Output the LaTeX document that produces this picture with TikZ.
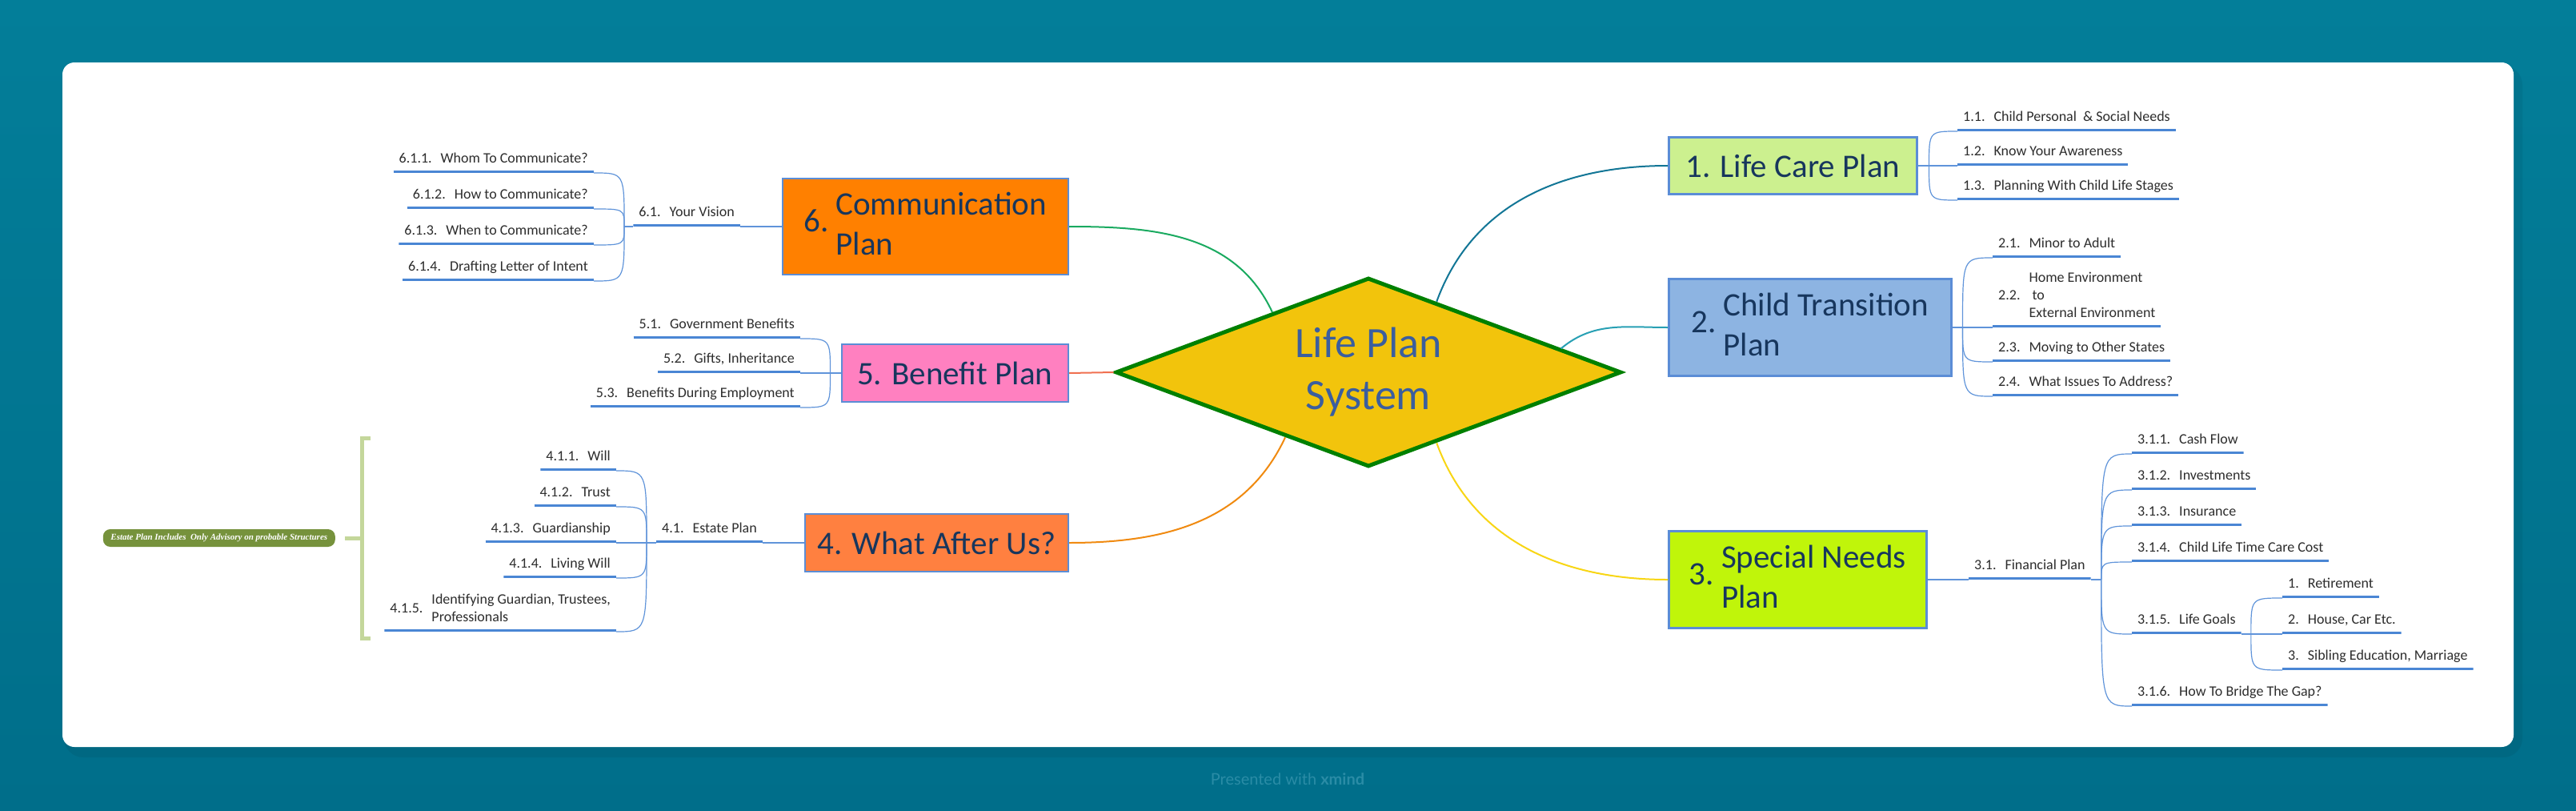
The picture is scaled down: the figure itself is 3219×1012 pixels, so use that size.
\documentclass[tikz,border=0pt]{standalone}
\usepackage{fontspec}
\setmainfont{Carlito}
\newfontfamily\brandfont{Lato}
\newfontfamily\notefont{Liberation Serif}
\usetikzlibrary{shapes.geometric,positioning,calc}

\definecolor{bgtop}{RGB}{3,126,153}
\definecolor{bgbot}{RGB}{0,110,138}
\definecolor{brand}{RGB}{42,140,166}
\definecolor{navy}{RGB}{23,54,93}
\definecolor{hubtext}{RGB}{59,94,158}
\definecolor{hubfill}{RGB}{242,196,12}
\definecolor{hubline}{RGB}{0,128,0}
\definecolor{boxline}{RGB}{91,141,214}
\definecolor{uline}{RGB}{74,134,212}
\definecolor{brline}{RGB}{96,148,218}
\definecolor{leaftext}{RGB}{45,45,45}
\definecolor{carefill}{RGB}{204,240,143}
\definecolor{transfill}{RGB}{141,180,226}
\definecolor{needsfill}{RGB}{192,245,10}
\definecolor{afterfill}{RGB}{255,128,64}
\definecolor{benefitfill}{RGB}{255,128,192}
\definecolor{commfill}{RGB}{255,128,0}
\definecolor{linkA}{RGB}{18,118,150}
\definecolor{linkB}{RGB}{40,160,180}
\definecolor{linkC}{RGB}{248,214,20}
\definecolor{linkD}{RGB}{240,138,16}
\definecolor{linkE}{RGB}{240,112,80}
\definecolor{linkF}{RGB}{26,170,96}
\definecolor{bracecol}{RGB}{196,215,155}
\definecolor{notefill}{RGB}{118,146,60}

\newcommand\hubfont{\fontsize{54}{65}\selectfont}
\newcommand\topicfont{\fontsize{41}{50}\selectfont}
\newcommand\leaffont{\fontsize{18}{22}\selectfont}
\newcommand\secno[1]{#1\hspace{11pt}}

\begin{document}
\begin{tikzpicture}
	[x=1pt,y=1pt,
	hub/.style={diamond,draw=hubline,line width=5pt,fill=hubfill,shape aspect=2.65,
		minimum width=632,minimum height=236,inner sep=0pt,text=hubtext,font=\hubfont,align=center},
	topic/.style={draw=boxline,line width=2.5pt,inner sep=0pt,text=navy,font=\topicfont},
	leaf/.style={font=\leaffont,text=leaftext,inner xsep=7pt,inner ysep=0pt,text depth=12pt,
		path picture={\draw[uline,line width=6pt] (path picture bounding box.south west)
			-- (path picture bounding box.south east);}},
	br/.style={brline,line width=1.2pt},
	link/.style={line width=2pt},
	brace/.style={bracecol,line width=5pt},
	note/.style={fill=notefill,rounded corners=9pt,minimum width=290,minimum height=22,
		inner sep=0pt,text=white,font=\notefont\bfseries\itshape\fontsize{11}{13}\selectfont}]

	% background and card
	\useasboundingbox (0,0) rectangle (3219,-1012);
	\fill[top color=bgtop,bottom color=bgbot] (0,0) rectangle (3219,-1012);
	\fill[black,opacity=0.06,rounded corners=24pt] (80,-82) rectangle (3152,-946);
	\fill[white,rounded corners=15pt] (78,-78) rectangle (3141,-933);
	\node[text=brand,font=\brandfont\fontsize{20}{24}\selectfont] (brand) at (1609,-973)
		{Presented with \textbf{xmind}};

	% central topic
	\node[hub] (hub) at (1710,-465) {Life Plan\\System};

	% main topics
	\node[topic,fill=carefill,minimum width=310,minimum height=71,anchor=west] (t1) at (2084,-207)
		{1. Life Care Plan};
	\node[topic,fill=transfill,minimum width=353,minimum height=121,anchor=west] (t2) at (2084,-409)
		{2.\hspace{9pt}\begin{tabular}[c]{@{}l@{}}Child Transition\\Plan\end{tabular}\hspace{8pt}};
	\node[topic,fill=needsfill,minimum width=322,minimum height=121,anchor=west] (t3) at (2084,-724)
		{3.\hspace{9pt}\begin{tabular}[c]{@{}l@{}}Special Needs\\Plan\end{tabular}};
	\node[topic,fill=afterfill,minimum width=329,minimum height=72,anchor=east] (t4) at (1336,-678)
		{4. What After Us?};
	\node[topic,fill=benefitfill,minimum width=283,minimum height=72,anchor=east] (t5) at (1336,-466)
		{5. Benefit Plan};
	\node[topic,fill=commfill,minimum width=357,minimum height=120,anchor=east] (t6) at (1336,-283)
		{6.\hspace{9pt}\begin{tabular}[c]{@{}l@{}}Communication\\Plan\end{tabular}};

	\draw[link,linkA] (hub.46) to[out=70,in=180] (t1.west);
	\draw[link,linkB] (hub.7) to[out=40,in=180] (t2.west);
	\draw[link,linkC] (hub.-46) to[out=-70,in=180] (t3.west);
	\draw[link,linkD] (hub.218) to[out=245,in=0] (t4.east);
	\draw[link,linkE] (hub.west) -- (t5.east);
	\draw[link,linkF] (hub.148) to[out=115,in=0] (t6.east);

	% 1. life care plan
	\coordinate[right=14pt of t1.east] (f1);
	\node[leaf,anchor=south west] (l11) at (2446,-164) {\secno{1.1.}Child Personal\ \ \& Social Needs};
	\node[leaf,anchor=south west] (l12) at (2446,-207) {\secno{1.2.}Know Your Awareness};
	\node[leaf,anchor=south west] (l13) at (2446,-250) {\secno{1.3.}Planning With Child Life Stages};
	\draw[br] (t1.east) -- (f1);
	\foreach \leaf in {l11,l12,l13}
		\draw[br] (f1) .. controls (f1 |- \leaf.south west) .. (\leaf.south west);

	% 2. child transition plan
	\coordinate[right=13pt of t2.east] (f2);
	\node[leaf,anchor=south west] (l21) at (2490,-322) {\secno{2.1.}Minor to Adult};
	\node[leaf,anchor=south west] (l22) at (2490,-409)
		{\begin{tabular}[b]{@{}l@{\hspace{11pt}}l@{}}&Home Environment\\2.2.&\ to\\&External Environment\end{tabular}};
	\node[leaf,anchor=south west] (l23) at (2490,-452) {\secno{2.3.}Moving to Other States};
	\node[leaf,anchor=south west] (l24) at (2490,-495) {\secno{2.4.}What Issues To Address?};
	\draw[br] (t2.east) -- (f2);
	\foreach \leaf in {l21,l22,l23,l24}
		\draw[br] (f2) .. controls (f2 |- \leaf.south west) .. (\leaf.south west);

	% 3. special needs plan
	\node[leaf,anchor=south west] (l31) at (2460,-724) {\secno{3.1.}Financial Plan};
	\draw[br] (t3.east) -- (l31.south west);
	\coordinate[right=13pt of l31.south east] (f3);
	\node[leaf,anchor=south west] (l311) at (2664,-567) {\secno{3.1.1.}Cash Flow};
	\node[leaf,anchor=south west] (l312) at (2664,-612) {\secno{3.1.2.}Investments};
	\node[leaf,anchor=south west] (l313) at (2664,-657) {\secno{3.1.3.}Insurance};
	\node[leaf,anchor=south west] (l314) at (2664,-702) {\secno{3.1.4.}Child Life Time Care Cost};
	\node[leaf,anchor=south west] (l315) at (2664,-792) {\secno{3.1.5.}Life Goals};
	\node[leaf,anchor=south west] (l316) at (2664,-882) {\secno{3.1.6.}How To Bridge The Gap?};
	\draw[br] (l31.south east) -- (f3);
	\foreach \leaf in {l311,l312,l313,l314,l315,l316}
		\draw[br] (f3) .. controls (f3 |- \leaf.south west) .. (\leaf.south west);

	\coordinate[right=12pt of l315.south east] (f35);
	\node[leaf,anchor=south west] (g1) at (2852,-747) {\secno{1.}Retirement};
	\node[leaf,anchor=south west] (g2) at (2852,-792) {\secno{2.}House, Car Etc.};
	\node[leaf,anchor=south west] (g3) at (2852,-837) {\secno{3.}Sibling Education, Marriage};
	\draw[br] (l315.south east) -- (f35);
	\foreach \leaf in {g1,g2,g3}
		\draw[br] (f35) .. controls (f35 |- \leaf.south west) .. (\leaf.south west);

	% 4. what after us
	\node[leaf,anchor=south east] (l41) at (953,-678) {\secno{4.1.}Estate Plan};
	\draw[br] (t4.west) -- (l41.south east);
	\coordinate[left=12pt of l41.south west] (f4);
	\node[leaf,anchor=south east] (l411) at (770,-588) {\secno{4.1.1.}Will};
	\node[leaf,anchor=south east] (l412) at (770,-633) {\secno{4.1.2.}Trust};
	\node[leaf,anchor=south east] (l413) at (770,-678) {\secno{4.1.3.}Guardianship};
	\node[leaf,anchor=south east] (l414) at (770,-722) {\secno{4.1.4.}Living Will};
	\node[leaf,anchor=south east] (l415) at (770,-789)
		{\begin{tabular}[b]{@{}l@{\hspace{11pt}}l@{}}&Identifying Guardian, Trustees,\\[-11pt]4.1.5.&\\[-11pt]&Professionals\end{tabular}\hspace{90pt}};
	\draw[br] (l41.south west) -- (f4);
	\foreach \leaf in {l411,l412,l413,l414,l415}
		\draw[br] (f4) .. controls (f4 |- \leaf.south east) .. (\leaf.south east);

	% summary of the estate plan
	\draw[brace] (463,-547) -- (452,-547) -- coordinate[pos=0.5] (bmid) (452,-797) -- (463,-797);
	\draw[brace] (bmid) -- ++(-21,0) coordinate (btip);
	\node[note,anchor=east] (note) at ($(btip)+(-12,0)$) {Estate Plan Includes\ \ Only Advisory on probable Structures};

	% 5. benefit plan
	\coordinate[left=13pt of t5.west] (f5);
	\node[leaf,anchor=south east] (l51) at (1000,-423) {\secno{5.1.}Government Benefits};
	\node[leaf,anchor=south east] (l52) at (1000,-466) {\secno{5.2.}Gifts, Inheritance};
	\node[leaf,anchor=south east] (l53) at (1000,-509) {\secno{5.3.}Benefits During Employment};
	\draw[br] (t5.west) -- (f5);
	\foreach \leaf in {l51,l52,l53}
		\draw[br] (f5) .. controls (f5 |- \leaf.south east) .. (\leaf.south east);

	% 6. communication plan
	\node[leaf,anchor=south east] (l61) at (925,-283) {\secno{6.1.}Your Vision};
	\draw[br] (t6.west) -- (l61.south east);
	\coordinate[left=11pt of l61.south west] (f6);
	\node[leaf,anchor=south east] (l611) at (742,-216) {\secno{6.1.1.}Whom To Communicate?};
	\node[leaf,anchor=south east] (l612) at (742,-261) {\secno{6.1.2.}How to Communicate?};
	\node[leaf,anchor=south east] (l613) at (742,-306) {\secno{6.1.3.}When to Communicate?};
	\node[leaf,anchor=south east] (l614) at (742,-351) {\secno{6.1.4.}Drafting Letter of Intent};
	\draw[br] (l61.south west) -- (f6);
	\foreach \leaf in {l611,l612,l613,l614}
		\draw[br] (f6) .. controls (f6 |- \leaf.south east) .. (\leaf.south east);
\end{tikzpicture}
\end{document}
